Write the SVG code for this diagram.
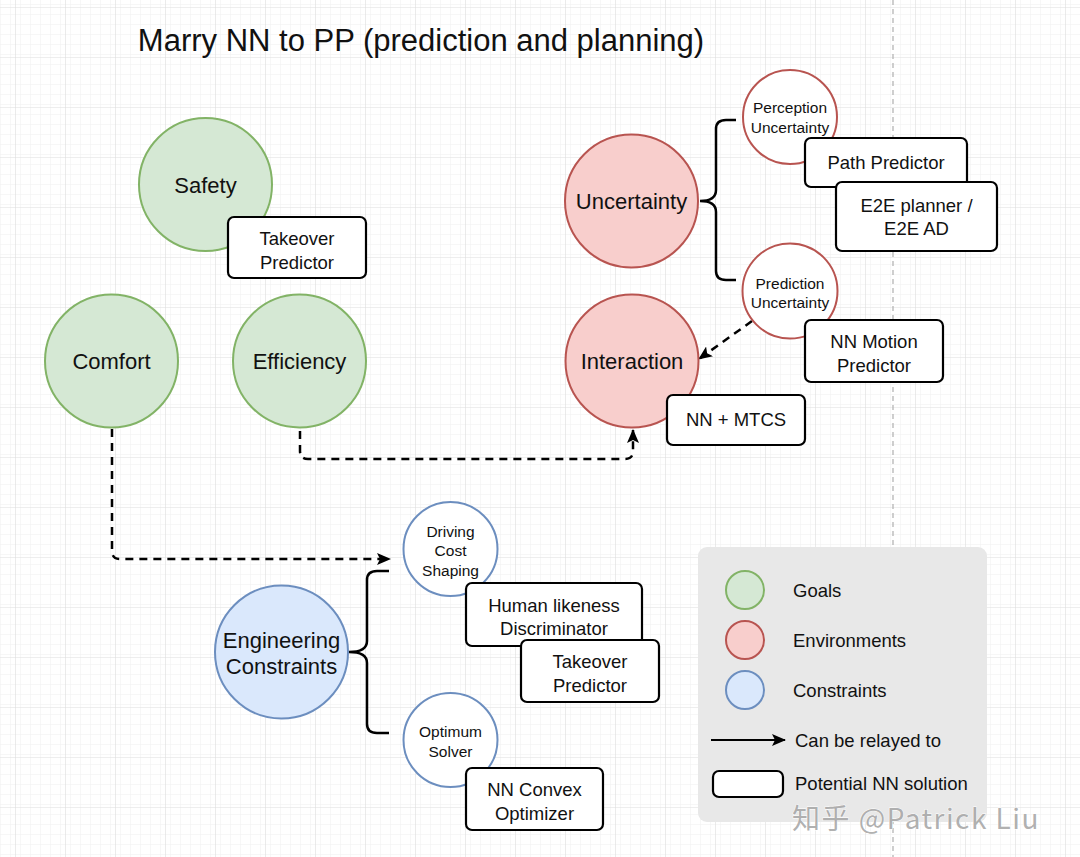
<svg xmlns="http://www.w3.org/2000/svg" width="1080" height="857" viewBox="0 0 1080 857">
<style>
text{font-family:"Liberation Sans",Arial,sans-serif;fill:#111;text-anchor:middle;dominant-baseline:central}
.big{font-size:22px}
.small{font-size:15.5px}
.box{font-size:18.5px}
.leg{font-size:18.5px;text-anchor:start}
.g{fill:#d5e8d4;stroke:#82b366;stroke-width:2}
.r{fill:#f8cecc;stroke:#b85450;stroke-width:2}
.b{fill:#dae8fc;stroke:#6c8ebf;stroke-width:2}
.rw{fill:#fff;stroke:#b85450;stroke-width:2}
.bw{fill:#fff;stroke:#6c8ebf;stroke-width:2}
.nn{fill:#fff;stroke:#000;stroke-width:2.2}
.dash{fill:none;stroke:#000;stroke-width:2.5;stroke-dasharray:8 6}
.brace{fill:none;stroke:#000;stroke-width:2.5}
</style>
<defs>
<pattern id="minor" width="10" height="10" patternUnits="userSpaceOnUse" x="5" y="7">
<path d="M0 0V10M0 0H10" fill="none" stroke="#f0f0f0" stroke-width="1"/>
</pattern>
<pattern id="major" width="50" height="50" patternUnits="userSpaceOnUse" x="15" y="7">
<rect width="50" height="50" fill="url(#minor)"/>
<path d="M0 0V50M0 0H50" fill="none" stroke="#dedede" stroke-width="1.2"/>
</pattern>
<marker id="ah" markerWidth="14" markerHeight="12" refX="13" refY="6" orient="auto" markerUnits="userSpaceOnUse">
<path d="M0 0L14 6L0 12L3 6Z" fill="#000"/>
</marker>
</defs>
<rect width="1080" height="857" fill="#fff"/>
<rect width="1080" height="857" fill="url(#major)"/>
<line x1="893" y1="0" x2="893" y2="857" stroke="#b5b5b5" stroke-width="1.3" stroke-dasharray="5 4"/>

<text x="421" y="40" style="font-size:31px">Marry NN to PP (prediction and planning)</text>

<g id="connectors">
<path class="dash" d="M112,429 V551 Q112,559 120,559 H390" marker-end="url(#ah)"/>
<path class="dash" d="M300,431 V451 Q300,459 308,459 H625 Q633,459 633,451 V430" marker-end="url(#ah)"/>
<path class="dash" d="M752,321 L699,359" marker-end="url(#ah)"/>
</g>

<g id="braces">
<path class="brace" d="M700,201 Q716,201 716,190 V129 Q716,120 726,120 H736 M700,201 Q716,201 716,212 V271 Q716,280 726,280 H736"/>
<path class="brace" d="M349,652 Q367,652 367,641 V580 Q367,571 377,571 H389 M349,652 Q367,652 367,663 V724 Q367,733 377,733 H389"/>
</g>

<g id="safety"><circle class="g" cx="205.5" cy="184.5" r="66.5"/><text class="big" x="205.5" y="185">Safety</text></g>
<g id="takeover1"><rect class="nn" x="228" y="217" width="138" height="61" rx="6"/><text class="box" x="297" y="238">Takeover</text><text class="box" x="297" y="262">Predictor</text></g>
<g id="comfort"><circle class="g" cx="111.5" cy="361" r="66.5"/><text class="big" x="111.5" y="361">Comfort</text></g>
<g id="efficiency"><circle class="g" cx="299.5" cy="361" r="66.5"/><text class="big" x="299.5" y="361">Efficiency</text></g>

<g id="uncertainty"><circle class="r" cx="631.5" cy="201" r="66.5"/><text class="big" x="631.5" y="201">Uncertainty</text></g>
<g id="perception"><circle class="rw" cx="790" cy="117" r="47"/><text class="small" x="790" y="107">Perception</text><text class="small" x="790" y="127">Uncertainty</text></g>
<g id="pathpred"><rect class="nn" x="805" y="138" width="162" height="49" rx="6"/><text class="box" x="886" y="162">Path Predictor</text></g>
<g id="e2e"><rect class="nn" x="836" y="182" width="161" height="69" rx="6"/><text class="box" x="916.5" y="205">E2E planner /</text><text class="box" x="916.5" y="228">E2E AD</text></g>
<g id="prediction"><circle class="rw" cx="790" cy="291" r="47.5"/><text class="small" x="790" y="283">Prediction</text><text class="small" x="790" y="302">Uncertainty</text></g>
<g id="nnmotion"><rect class="nn" x="805" y="320" width="138" height="62" rx="6"/><text class="box" x="874" y="341">NN Motion</text><text class="box" x="874" y="365">Predictor</text></g>
<g id="interaction"><circle class="r" cx="632" cy="361" r="66.5"/><text class="big" x="632" y="361">Interaction</text></g>
<g id="mtcs"><rect class="nn" x="667" y="395" width="138" height="50" rx="6"/><text class="box" x="736" y="419">NN + MTCS</text></g>

<g id="driving"><circle class="bw" cx="450.5" cy="549" r="47"/><text class="small" x="450.5" y="531">Driving</text><text class="small" x="450.5" y="550">Cost</text><text class="small" x="450.5" y="570">Shaping</text></g>
<g id="engineering"><circle class="b" cx="281.5" cy="652" r="66.5"/><text class="big" x="281.5" y="640">Engineering</text><text class="big" x="281.5" y="666">Constraints</text></g>
<g id="human"><rect class="nn" x="466" y="583" width="176" height="63" rx="6"/><text class="box" x="554" y="605">Human likeness</text><text class="box" x="554" y="628">Discriminator</text></g>
<g id="takeover2"><rect class="nn" x="521" y="640" width="138" height="62" rx="6"/><text class="box" x="590" y="661">Takeover</text><text class="box" x="590" y="685">Predictor</text></g>
<g id="optimum"><circle class="bw" cx="450.5" cy="740" r="47"/><text class="small" x="450.5" y="731">Optimum</text><text class="small" x="450.5" y="751">Solver</text></g>
<g id="convex"><rect class="nn" x="466" y="768" width="137" height="62" rx="6"/><text class="box" x="534.5" y="789">NN Convex</text><text class="box" x="534.5" y="813">Optimizer</text></g>

<g id="legend">
<rect x="698" y="547" width="289" height="275" rx="9" fill="#e8e8e8"/>
<circle class="g" cx="745" cy="590" r="19"/><text class="leg" x="793" y="590">Goals</text>
<circle class="r" cx="745" cy="640" r="19"/><text class="leg" x="793" y="640">Environments</text>
<circle class="b" cx="745" cy="690" r="19"/><text class="leg" x="793" y="690">Constraints</text>
<line x1="711" y1="740" x2="785" y2="740" stroke="#000" stroke-width="2" marker-end="url(#ah)"/>
<text class="leg" x="795" y="740">Can be relayed to</text>
<rect x="713" y="771" width="70" height="26" rx="6" fill="#fff" stroke="#000" stroke-width="2.2"/>
<text class="leg" x="795" y="783">Potential NN solution</text>
</g>

<text x="792" y="817" style="font-family:'Noto Sans CJK SC','Liberation Sans',sans-serif;font-size:28px;letter-spacing:1.5px;text-anchor:start;fill:#a6a6a6;fill-opacity:0.9;stroke:#fff;stroke-width:0.8;paint-order:stroke">知乎 @Patrick Liu</text>
</svg>
